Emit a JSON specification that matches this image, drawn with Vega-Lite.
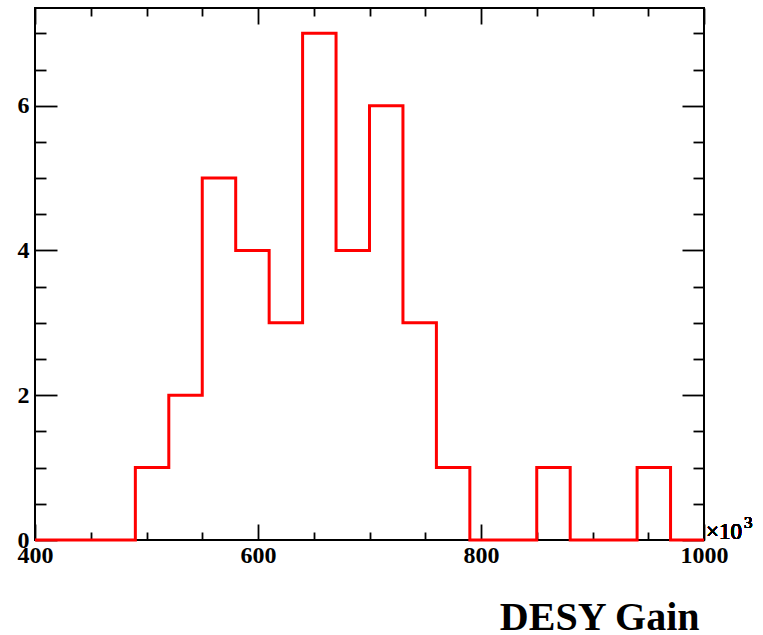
{
  "$schema": "https://vega.github.io/schema/vega-lite/v6.json",
  "width": 669,
  "height": 532,
  "autosize": {"type": "none"},
  "padding": {"left": 35, "top": 8, "right": 59, "bottom": 95},
  "background": "white",
  "config": {
    "view": {"stroke": "black", "strokeWidth": 2},
    "axis": {"grid": false, "domain": false, "tickColor": "black", "tickWidth": 1.8, "labelFont": "Liberation Serif", "labelFontWeight": "bold", "labelFontSize": 24, "labelColor": "black", "labelOverlap": false, "labelFlush": false}
  },
  "data": {
    "values": [
      {"edge": 400, "count": 0},
      {"edge": 430, "count": 0},
      {"edge": 460, "count": 0},
      {"edge": 490, "count": 1},
      {"edge": 520, "count": 2},
      {"edge": 550, "count": 5},
      {"edge": 580, "count": 4},
      {"edge": 610, "count": 3},
      {"edge": 640, "count": 7},
      {"edge": 670, "count": 4},
      {"edge": 700, "count": 6},
      {"edge": 730, "count": 3},
      {"edge": 760, "count": 1},
      {"edge": 790, "count": 0},
      {"edge": 820, "count": 0},
      {"edge": 850, "count": 1},
      {"edge": 880, "count": 0},
      {"edge": 910, "count": 0},
      {"edge": 940, "count": 1},
      {"edge": 970, "count": 0},
      {"edge": 1000, "count": 0}
    ]
  },
  "layer": [
    {
      "mark": {"type": "line", "interpolate": "step-after", "color": "#ff0000", "strokeWidth": 3, "clip": false},
      "encoding": {
        "x": {"field": "edge", "type": "quantitative", "scale": {"domain": [400, 1000], "nice": false, "zero": false},
          "axis": {"orient": "bottom", "ticks": false, "values": [400, 600, 800, 1000], "format": "d", "labelPadding": 3, "labelBaseline": "top",
            "title": "DESY Gain", "titleFont": "Liberation Serif", "titleFontWeight": "bold", "titleFontSize": 40, "titleColor": "black",
            "titleX": 664, "titleY": 89, "titleAlign": "right", "titleBaseline": "alphabetic", "titleAnchor": "end"}},
        "y": {"field": "count", "type": "quantitative", "scale": {"domain": [0, 7.35], "nice": false, "zero": true},
          "axis": {"orient": "left", "ticks": false, "values": [0, 2, 4, 6], "labelPadding": 6, "labelBaseline": "middle", "title": null}}
      }
    },
    {
      "mark": {"type": "line", "opacity": 0},
      "encoding": {
        "x": {"field": "edge", "type": "quantitative", "axis": {"orient": "bottom", "labels": false, "tickSize": -16, "values": [400, 600, 800, 1000], "title": null}},
        "y": {"field": "count", "type": "quantitative", "axis": {"orient": "left", "labels": false, "tickSize": -22, "values": [0, 2, 4, 6], "title": null}}
      }
    },
    {
      "mark": {"type": "line", "opacity": 0},
      "encoding": {
        "x": {"field": "edge", "type": "quantitative", "axis": {"orient": "bottom", "labels": false, "tickSize": -8, "values": [450, 500, 550, 650, 700, 750, 850, 900, 950], "title": null}},
        "y": {"field": "count", "type": "quantitative", "axis": {"orient": "left", "labels": false, "tickSize": -11, "values": [0.5, 1, 1.5, 2.5, 3, 3.5, 4.5, 5, 5.5, 6.5, 7], "title": null}}
      }
    },
    {
      "mark": {"type": "line", "opacity": 0},
      "encoding": {
        "x": {"field": "edge", "type": "quantitative", "axis": {"orient": "top", "labels": false, "tickSize": -16, "values": [400, 600, 800, 1000], "title": null}},
        "y": {"field": "count", "type": "quantitative", "axis": {"orient": "right", "labels": false, "tickSize": -22, "values": [0, 2, 4, 6], "title": null}}
      }
    },
    {
      "mark": {"type": "line", "opacity": 0},
      "encoding": {
        "x": {"field": "edge", "type": "quantitative", "axis": {"orient": "top", "labels": false, "tickSize": -8, "values": [450, 500, 550, 650, 700, 750, 850, 900, 950], "title": null}},
        "y": {"field": "count", "type": "quantitative", "axis": {"orient": "right", "labels": false, "tickSize": -11, "values": [0.5, 1, 1.5, 2.5, 3, 3.5, 4.5, 5, 5.5, 6.5, 7], "title": null}}
      }
    },
    {
      "mark": {"type": "text", "text": "×10", "align": "left", "baseline": "alphabetic", "dx": 2, "dy": -1, "font": "Liberation Serif", "fontSize": 23, "color": "black"},
      "encoding": {
        "x": {"datum": 1000, "type": "quantitative", "axis": null},
        "y": {"datum": 0, "type": "quantitative", "axis": null}
      }
    },
    {
      "mark": {"type": "text", "text": "3", "align": "left", "baseline": "alphabetic", "dx": 40, "dy": -12, "font": "Liberation Serif", "fontSize": 17, "color": "black"},
      "encoding": {
        "x": {"datum": 1000, "type": "quantitative", "axis": null},
        "y": {"datum": 0, "type": "quantitative", "axis": null}
      }
    }
  ],
  "resolve": {"axis": {"x": "independent", "y": "independent"}}
}
